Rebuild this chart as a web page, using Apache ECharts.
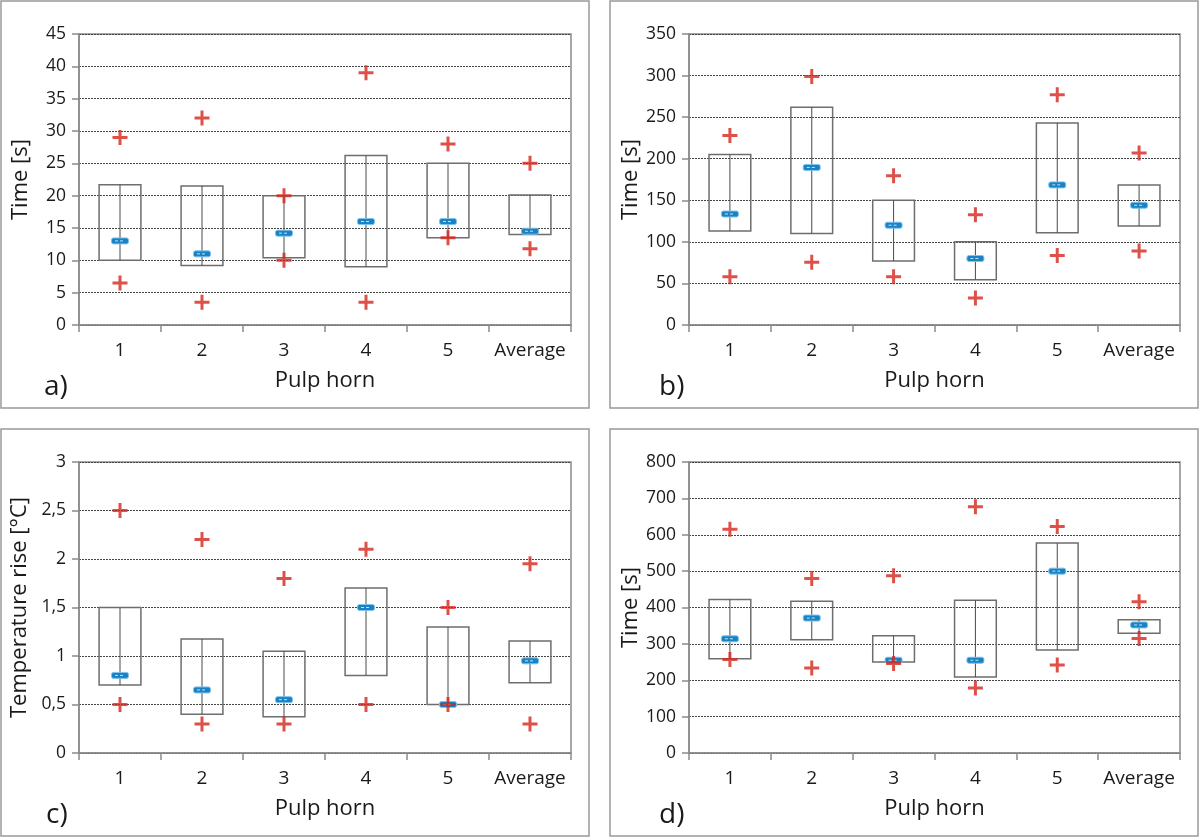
<!DOCTYPE html>
<html>
<head>
<meta charset="utf-8">
<script src="https://cdn.jsdelivr.net/npm/echarts@6/dist/echarts.min.js"></script>
<style>
html,body{margin:0;padding:0;background:#fff;}
#chart{width:1200px;height:838px;}
</style>
</head>
<body>
<div id="chart"></div>
<script>
// ---- data ----
const categories = ['1', '2', '3', '4', '5', 'Average'];

// panel a) Time [s]
const aBoxLow  = [10.0, 9.2, 10.4, 9.0, 13.5, 14.0];
const aBoxHigh = [21.7, 21.5, 20.0, 26.2, 25.0, 20.1];
const aMedian  = [13.0, 11.0, 14.2, 16.0, 16.0, 14.5];
const aMax     = [29.0, 32.0, 20.0, 39.0, 28.0, 25.0];
const aMin     = [6.5, 3.5, 10.0, 3.5, 13.5, 11.8];

// panel b) Time [s]
const bBoxLow  = [113, 110, 77, 54.5, 111, 119];
const bBoxHigh = [205, 262, 150, 100, 243, 168.5];
const bMedian  = [133.5, 189.5, 120, 80, 168.5, 144];
const bMax     = [228, 299, 179.5, 132.5, 277, 207];
const bMin     = [58, 75.5, 58, 32.5, 83.5, 89];

// panel c) Temperature rise [°C]
const cBoxLow  = [0.70, 0.40, 0.375, 0.80, 0.50, 0.725];
const cBoxHigh = [1.50, 1.175, 1.05, 1.70, 1.30, 1.155];
const cMedian  = [0.80, 0.65, 0.55, 1.50, 0.50, 0.95];
const cMax     = [2.50, 2.20, 1.80, 2.10, 1.50, 1.95];
const cMin     = [0.50, 0.30, 0.30, 0.50, 0.50, 0.30];

// panel d) Time [s]
const dBoxLow  = [259, 311, 250, 209, 283, 329];
const dBoxHigh = [422, 417, 322, 420, 577, 366];
const dMedian  = [314, 371, 255, 255, 500, 352];
const dMax     = [615, 480, 487, 677, 623, 416];
const dMin     = [257, 234, 246, 179, 242, 315];

// axis ticks
const aAxis = {max: 45, interval: 5};
const bAxis = {max: 350, interval: 50};
const cAxis = {max: 3, interval: 0.5};
const dAxis = {max: 800, interval: 100};

// ---- styling ----
const FONT = 'Open Sans';
const GRAY = '#8a8a8a';
const PLUS = 'path://M-1.4,-7L1.4,-7L1.4,-1.4L7,-1.4L7,1.4L1.4,1.4L1.4,7L-1.4,7L-1.4,1.4L-7,1.4L-7,-1.4L-1.4,-1.4Z';

function renderBox(params, api) {
  const x = api.value(0);
  const lo = api.coord([x, api.value(1)]);
  const hi = api.coord([x, api.value(2)]);
  const md = api.coord([x, api.value(3)]);
  const bw = api.size([1, 0])[0] * 0.51;
  return {
    type: 'group',
    children: [
      {type: 'rect', shape: {x: lo[0] - bw / 2, y: hi[1], width: bw, height: lo[1] - hi[1]},
       style: {fill: 'rgba(255,255,255,0)', stroke: '#6e6e6e', lineWidth: 1.5}},
      {type: 'line', shape: {x1: lo[0], y1: hi[1], x2: lo[0], y2: lo[1]},
       style: {stroke: '#4a4a4a', lineWidth: 1}},
      {type: 'rect', shape: {x: md[0] - 8.5, y: md[1] - 3, width: 17, height: 6, r: 2},
       style: {fill: '#1a82c2', stroke: '#7cc3ee', lineWidth: 1}},
      {type: 'line', shape: {x1: md[0] - 5, y1: md[1], x2: md[0] + 5, y2: md[1]},
       style: {stroke: '#bfe4f8', lineWidth: 1, lineDash: [3, 2]}}
    ]
  };
}

const grids = [
  {left: 79, top: 34, width: 492, height: 291},
  {left: 689, top: 34, width: 491, height: 291},
  {left: 79, top: 462, width: 492, height: 291},
  {left: 689, top: 462, width: 491, height: 291}
];

const panels = [
  {low: aBoxLow, high: aBoxHigh, med: aMedian, max: aMax, min: aMin, axis: aAxis, name: 'Time [s]', gap: 47, fmt: v => String(v)},
  {low: bBoxLow, high: bBoxHigh, med: bMedian, max: bMax, min: bMin, axis: bAxis, name: 'Time [s]', gap: 46, fmt: v => String(v)},
  {low: cBoxLow, high: cBoxHigh, med: cMedian, max: cMax, min: cMin, axis: cAxis, name: 'Temperature rise [°C]', gap: 48, fmt: v => String(v).replace('.', ',')},
  {low: dBoxLow, high: dBoxHigh, med: dMedian, max: dMax, min: dMin, axis: dAxis, name: 'Time [s]', gap: 46, fmt: v => String(v)}
];

const xAxes = [], yAxes = [], series = [];
panels.forEach((p, k) => {
  xAxes.push({
    type: 'category', gridIndex: k, data: categories,
    name: 'Pulp horn', nameLocation: 'middle', nameGap: 45,
    nameTextStyle: {fontFamily: FONT, fontSize: 22, color: '#1a1a1a'},
    axisLine: {lineStyle: {color: GRAY, width: 1.5}},
    axisTick: {show: true, interval: 0, length: 7, inside: false, lineStyle: {color: GRAY, width: 1.5}},
    axisLabel: {interval: 0, fontFamily: FONT, fontSize: 19, color: '#1a1a1a', margin: 16},
    splitLine: {show: false}
  });
  yAxes.push({
    type: 'value', gridIndex: k, min: 0, max: p.axis.max, interval: p.axis.interval,
    name: p.name, nameLocation: 'middle', nameGap: p.gap, nameRotate: 90,
    nameTextStyle: {fontFamily: FONT, fontSize: 22, color: '#1a1a1a'},
    axisLine: {show: true, lineStyle: {color: GRAY, width: 1.5}},
    axisTick: {show: true, length: 7, lineStyle: {color: GRAY, width: 1.5}},
    axisLabel: {fontFamily: FONT, fontSize: 17.5, color: '#1a1a1a', margin: 13, formatter: p.fmt},
    splitLine: {show: true, lineStyle: {color: '#444', width: 1, type: [2, 1]}}
  });
  series.push({
    type: 'custom', xAxisIndex: k, yAxisIndex: k, renderItem: renderBox,
    encode: {x: 0, y: [1, 2, 3]},
    data: categories.map((c, i) => [i, p.low[i], p.high[i], p.med[i]]),
    z: 3
  });
  series.push({
    type: 'scatter', xAxisIndex: k, yAxisIndex: k, symbol: PLUS, symbolSize: 15,
    itemStyle: {color: '#d4261c'},
    data: p.max.map((v, i) => [i, v]).concat(p.min.map((v, i) => [i, v])),
    z: 4
  });
});

const panelLabels = [
  {t: 'a)', x: 44, y: 387},
  {t: 'b)', x: 659, y: 387},
  {t: 'c)', x: 46, y: 815},
  {t: 'd)', x: 659, y: 815}
];

const option = {
  animation: false,
  backgroundColor: '#fff',
  grid: grids.map(g => Object.assign({show: true, borderColor: GRAY, borderWidth: 1.5, backgroundColor: 'transparent'}, g)),
  xAxis: xAxes,
  yAxis: yAxes,
  series: series,
  graphic: [
    {type: 'rect', shape: {x: 1, y: 1, width: 588, height: 407}, style: {fill: 'none', stroke: '#999', lineWidth: 1.5}, silent: true},
    {type: 'rect', shape: {x: 610, y: 1, width: 588, height: 407}, style: {fill: 'none', stroke: '#999', lineWidth: 1.5}, silent: true},
    {type: 'rect', shape: {x: 1, y: 429, width: 588, height: 407}, style: {fill: 'none', stroke: '#999', lineWidth: 1.5}, silent: true},
    {type: 'rect', shape: {x: 610, y: 429, width: 588, height: 407}, style: {fill: 'none', stroke: '#999', lineWidth: 1.5}, silent: true}
  ].concat(panelLabels.map(l => ({
    type: 'text', x: l.x, y: l.y, silent: true,
    style: {text: l.t, font: '28px "Open Sans"', fill: '#1a1a1a', verticalAlign: 'middle', align: 'left'}
  })))
};

const chart = echarts.init(document.getElementById('chart'), null, {renderer: 'canvas'});
chart.setOption(option);
</script>
</body>
</html>
